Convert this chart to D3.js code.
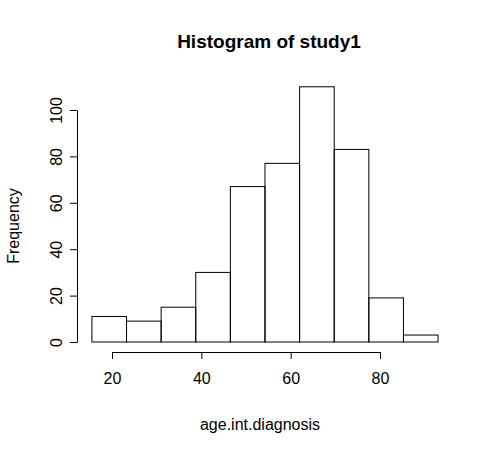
<!DOCTYPE html>
<html><head><meta charset="utf-8">
<script src="https://cdn.jsdelivr.net/npm/d3@7"></script>
<style>body{margin:0;background:#fff}text{font-family:"Liberation Sans",Arial,sans-serif}</style>
</head><body><svg id="c" width="492" height="450"></svg>
<script>
const breaks = [15.5,23.25,31,38.75,46.5,54.25,62,69.75,77.5,85.25,93];
const counts = [11,9,15,30,67,77,110,83,19,3];
const xTicks = [20,40,60,80];
const yTicks = [0,20,40,60,80,100];

const svg = d3.select("#c");
const x = d3.scaleLinear().domain([20,80]).range([112,380]);
const y = d3.scaleLinear().domain([0,100]).range([342,110]);

svg.selectAll("rect.bar").data(counts).enter().append("rect")
  .attr("x",(d,i)=>x(breaks[i])).attr("width",(d,i)=>x(breaks[i+1])-x(breaks[i]))
  .attr("y",d=>y(d)).attr("height",d=>y(0)-y(d))
  .attr("fill","none").attr("stroke","#000").attr("stroke-width",1);

const xa = svg.append("g").attr("transform","translate(0,352)")
  .call(d3.axisBottom(x).tickValues(xTicks).tickSize(7).tickPadding(14).tickSizeOuter(0));
const ya = svg.append("g").attr("transform","translate(77,0)")
  .call(d3.axisLeft(y).tickValues(yTicks).tickSize(7).tickSizeOuter(0));
[xa,ya].forEach(g=>{g.selectAll("text").attr("font-size",16).attr("fill","#000").attr("font-family","Liberation Sans, Arial, sans-serif");g.selectAll("line,path").attr("stroke","#000");});
ya.selectAll(".tick text").attr("transform","rotate(-90)").attr("x",0).attr("y",-15).attr("dy",0).attr("text-anchor","middle");

svg.append("text").attr("x",269).attr("y",48).attr("text-anchor","middle").attr("font-size",19).attr("font-weight","bold").text("Histogram of study1");
svg.append("text").attr("x",260).attr("y",430).attr("text-anchor","middle").attr("font-size",16).text("age.int.diagnosis");
svg.append("text").attr("transform","translate(19,226) rotate(-90)").attr("text-anchor","middle").attr("font-size",16).text("Frequency");
</script></body></html>
